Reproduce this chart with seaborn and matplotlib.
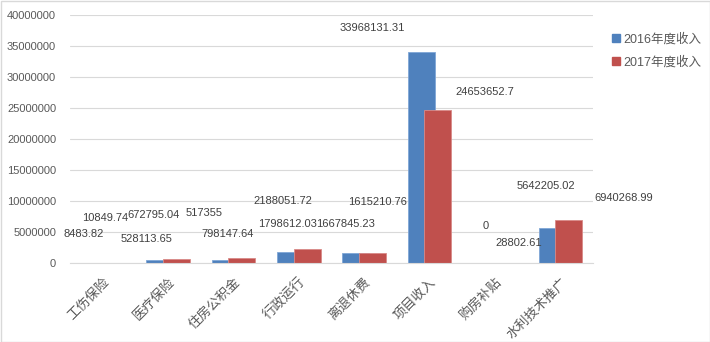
import matplotlib
matplotlib.use("Agg")
import matplotlib.pyplot as plt
import seaborn as sns
import numpy as np
import pandas as pd
from matplotlib.patches import Patch

categories = ["工伤保险", "医疗保险", "住房公积金", "行政运行", "离退休费", "项目收入", "购房补贴", "水利技术推广"]
income_2016 = [8483.82, 528113.65, 517355, 1798612.03, 1667845.23, 33968131.31, 0, 5642205.02]
income_2017 = [10849.74, 672795.04, 798147.64, 2188051.72, 1615210.76, 24653652.7, 28802.61, 6940268.99]
label_2016 = ["8483.82", "528113.65", "517355", "1798612.03", "1667845.23", "33968131.31", "0", "5642205.02"]
label_2017 = ["10849.74", "672795.04", "798147.64", "2188051.72", "1615210.76", "24653652.7", "28802.61", "6940268.99"]
series_names = ["2016年度收入", "2017年度收入"]
yticks = [0, 5000000, 10000000, 15000000, 20000000, 25000000, 30000000, 35000000, 40000000]

# label placement (in category / value units) mimicking the reference's scattered labels
pos_2016 = [(-0.286, 4.68e6), (0.678, 3.87e6), (1.55, 8.06e6), (2.82, 6.29e6), (3.72, 6.29e6),
            (4.12, 37.9e6), (5.86, 5.97e6), (6.78, 12.42e6)]
pos_2017 = [(0.035, 7.26e6), (0.77, 7.74e6), (1.917, 4.68e6), (2.758, 10.0e6), (4.21, 9.84e6),
            (5.85, 27.6e6), (6.37, 3.23e6), (7.97, 10.48e6)]

blue = "#4F81BD"
red = "#C0504D"

sns.set_theme(style="white")
plt.rcParams['font.family'] = ['Liberation Sans', 'Noto Sans CJK SC', 'DejaVu Sans']

fig = plt.figure(figsize=(7.1, 3.42), dpi=100)
ax = fig.add_axes([70/710, 1 - 263/342, 523/710, 248/342])

idx = np.arange(len(categories))
offset = 0.126
bw = 0.413
df16 = pd.DataFrame({"pos": idx - offset, "val": income_2016})
df17 = pd.DataFrame({"pos": idx + offset, "val": income_2017})
sns.barplot(data=df16, x="pos", y="val", native_scale=True, width=bw, color=blue,
            saturation=1, edgecolor="#7FA6D6", linewidth=0.6, ax=ax, errorbar=None)
sns.barplot(data=df17, x="pos", y="val", native_scale=True, width=bw, color=red,
            saturation=1, edgecolor="#D98A88", linewidth=0.6, ax=ax, errorbar=None)

ax.set_xlim(-0.5, len(categories) - 0.5)
ax.set_ylim(0, 40000000)
ax.set_yticks(yticks)
ax.set_yticklabels([str(v) for v in yticks], fontsize=8, color="#595959")
ax.set_xticks(idx)
ax.set_xticklabels(categories, rotation=45, ha="right", rotation_mode="anchor",
                   fontsize=9.5, color="#595959", family=['Noto Sans CJK SC', 'DejaVu Sans'])
ax.tick_params(axis="both", length=0)
ax.tick_params(axis="x", pad=9)
ax.tick_params(axis="y", pad=10)
ax.set_xlabel("")
ax.set_ylabel("")
ax.grid(axis="y", color="#D9D9D9", linewidth=0.8)
ax.set_axisbelow(True)
for s in ["top", "right", "left"]:
    ax.spines[s].set_visible(False)
ax.spines["bottom"].set_color("#D9D9D9")
ax.spines["bottom"].set_linewidth(0.8)

for (x, y), t in zip(pos_2016, label_2016):
    ax.text(x, y, t, ha="center", va="center", fontsize=8, color="#404040", clip_on=False)
for (x, y), t in zip(pos_2017, label_2017):
    ax.text(x, y, t, ha="center", va="center", fontsize=8, color="#404040", clip_on=False)

handles = [Patch(facecolor=blue, edgecolor=blue), Patch(facecolor=red, edgecolor=red)]
fig.legend(handles, series_names, loc="upper left", bbox_to_anchor=(612/710, 1 - 33/342),
           frameon=False, handlelength=0.6, handleheight=0.6, handletextpad=0.3,
           labelspacing=0.85, labelcolor="#595959", borderaxespad=0, borderpad=0,
           prop={'family': ['Liberation Sans', 'Noto Sans CJK SC'], 'size': 9})

border = plt.Rectangle((0.5/710, 0.5/342), 1 - 1/710, 1 - 1/342, transform=fig.transFigure,
                       fill=False, edgecolor="#D9D9D9", linewidth=1)
fig.patches.append(border)

fig.savefig("out.png", dpi=100)
